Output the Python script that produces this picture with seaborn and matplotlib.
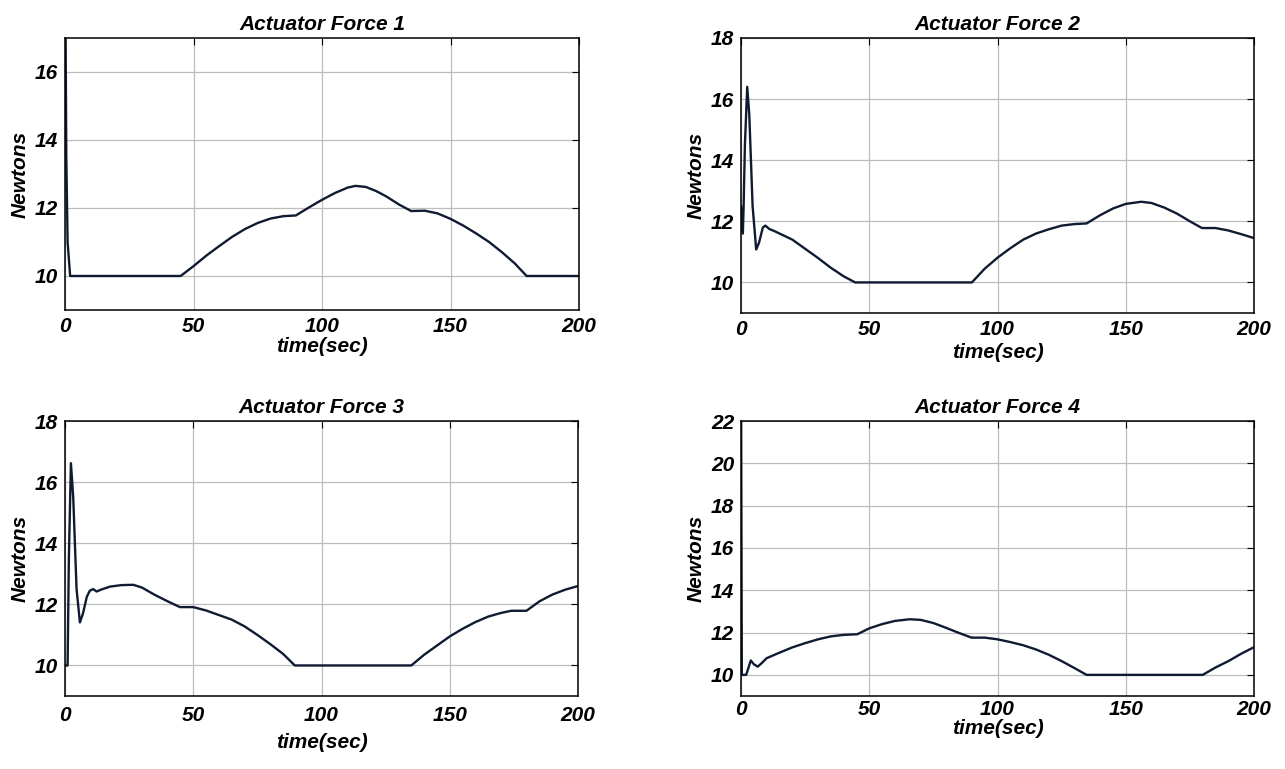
import numpy as np
import pandas as pd
import seaborn as sns
import matplotlib.pyplot as plt

# values (time in sec, force in Newtons)
t1 = [0, 0.5, 1.0, 2.0, 45, 50, 55, 60, 65, 70, 75, 80, 85, 89.8, 95, 100, 105, 110, 113,
      117, 121, 125, 130, 134.7, 140, 145, 150, 155, 160, 165, 170, 175, 179.6, 200]
f1 = [20, 13.5, 11.0, 10.0, 10.0, 10.29, 10.6, 10.88, 11.15, 11.38, 11.56, 11.69, 11.76, 11.78,
      12.02, 12.24, 12.44, 12.6, 12.65, 12.62, 12.5, 12.34, 12.1, 11.91, 11.92, 11.84, 11.68,
      11.48, 11.25, 11.0, 10.7, 10.37, 10.0, 10.0]

t2 = [0, 0.3, 0.7, 1.0, 1.5, 2.4, 3.2, 4.5, 5.9, 7.0, 8.5, 9.5, 11, 13, 20, 25, 30, 35, 40, 44.5,
      90, 95, 100, 105, 110, 115, 120, 125, 130, 134.7, 140, 145, 150, 156, 160, 165, 170, 175,
      179.7, 185, 190, 195, 200]
f2 = [12.5, 12.0, 11.6, 12.5, 14.5, 16.4, 15.5, 12.5, 11.08, 11.3, 11.8, 11.86, 11.75, 11.68,
      11.4, 11.1, 10.8, 10.48, 10.2, 10.0, 10.0, 10.45, 10.81, 11.12, 11.4, 11.6, 11.74, 11.86,
      11.91, 11.93, 12.2, 12.42, 12.57, 12.64, 12.6, 12.45, 12.25, 12.0, 11.78, 11.78, 11.7,
      11.58, 11.45]

t3 = [0, 1.0, 1.5, 2.3, 3.2, 4.5, 5.8, 7, 8.5, 9.7, 11, 12.3, 14, 17.5, 22, 26.6, 30, 35, 40,
      44.8, 50, 55, 60, 65, 70, 75, 80, 85, 89.6, 135, 140, 145, 150, 155, 160, 165, 170, 174,
      179.9, 185, 190, 195, 200]
f3 = [10.0, 10.0, 13.5, 16.62, 15.5, 12.5, 11.41, 11.7, 12.25, 12.45, 12.5, 12.42, 12.48, 12.58,
      12.63, 12.64, 12.55, 12.31, 12.1, 11.91, 11.91, 11.8, 11.65, 11.5, 11.28, 11.0, 10.7,
      10.38, 10.0, 10.0, 10.35, 10.65, 10.95, 11.2, 11.42, 11.6, 11.72, 11.79, 11.79, 12.1,
      12.32, 12.48, 12.6]

t4 = [0, 0.3, 2.0, 3.8, 5.0, 6.5, 8, 10, 15, 20, 25, 30, 35, 40, 45.3, 50, 55, 60, 65.8, 70,
      75, 80, 85, 89.9, 95, 100, 105, 110, 115, 120, 125, 130, 134.7, 180, 185, 190, 195, 200]
f4 = [23, 10.0, 10.0, 10.68, 10.5, 10.39, 10.55, 10.79, 11.05, 11.3, 11.5, 11.68, 11.82, 11.89,
      11.92, 12.2, 12.4, 12.55, 12.63, 12.6, 12.45, 12.22, 11.98, 11.76, 11.76, 11.68, 11.55,
      11.4, 11.2, 10.95, 10.65, 10.32, 10.0, 10.0, 10.35, 10.65, 11.0, 11.31]

titles = ['Actuator Force 1', 'Actuator Force 2', 'Actuator Force 3', 'Actuator Force 4']
ylims = [(9, 17), (9, 18), (9, 18), (9, 22)]
yticks = [[10, 12, 14, 16], [10, 12, 14, 16, 18], [10, 12, 14, 16, 18], [10, 12, 14, 16, 18, 20, 22]]
xticks = [0, 50, 100, 150, 200]

series = [(t1, f1), (t2, f2), (t3, f3), (t4, f4)]

sns.set_style('white')
plt.rcParams['font.family'] = ['Liberation Sans', 'DejaVu Sans']
plt.rcParams['font.weight'] = 'bold'
plt.rcParams['font.style'] = 'italic'
plt.rcParams['text.color'] = 'black'
plt.rcParams['axes.labelcolor'] = 'black'

fig = plt.figure(figsize=(12.85, 7.69), dpi=100)

# axes boxes in figure fraction (left, bottom, width, height)
boxes = [[0.0506, 0.5969, 0.400, 0.3537],
         [0.5767, 0.5930, 0.3992, 0.3576],
         [0.0506, 0.0949, 0.3992, 0.3576],
         [0.5767, 0.0949, 0.3992, 0.3576]]
xlabel_pads = [1, 3, 6, 0]
xtick_pads = [5, 5, 7, 3]

line_color = '#0f1b30'
fs = 15

for i, ((t, f), box) in enumerate(zip(series, boxes)):
    ax = fig.add_axes(box)
    df = pd.DataFrame({'time': t, 'force': f})
    sns.lineplot(data=df, x='time', y='force', ax=ax, color=line_color, linewidth=1.7,
                 estimator=None, sort=False)
    ax.set_xlim(0, 200)
    ax.set_ylim(*ylims[i])
    ax.set_xticks(xticks)
    ax.set_yticks(yticks[i])
    ax.grid(True, color='#bdbdbd', linewidth=0.9)
    ax.set_axisbelow(True)
    for s in ax.spines.values():
        s.set_visible(True)
        s.set_color('black')
        s.set_linewidth(1.1)
    ax.tick_params(direction='in', length=5, width=0.8, top=True, right=True,
                   labelsize=fs, colors='black', pad=5)
    ax.tick_params(axis='x', pad=xtick_pads[i])
    for lab in ax.get_xticklabels() + ax.get_yticklabels():
        lab.set_fontweight('bold')
        lab.set_fontstyle('italic')
    ax.set_title(titles[i], fontsize=fs, fontweight='bold', fontstyle='italic', pad=6)
    ax.set_xlabel('time(sec)', fontsize=fs, fontweight='bold', fontstyle='italic',
                  labelpad=xlabel_pads[i])
    ax.set_ylabel('Newtons', fontsize=fs, fontweight='bold', fontstyle='italic', labelpad=4)

fig.savefig('out.png', dpi=100)
